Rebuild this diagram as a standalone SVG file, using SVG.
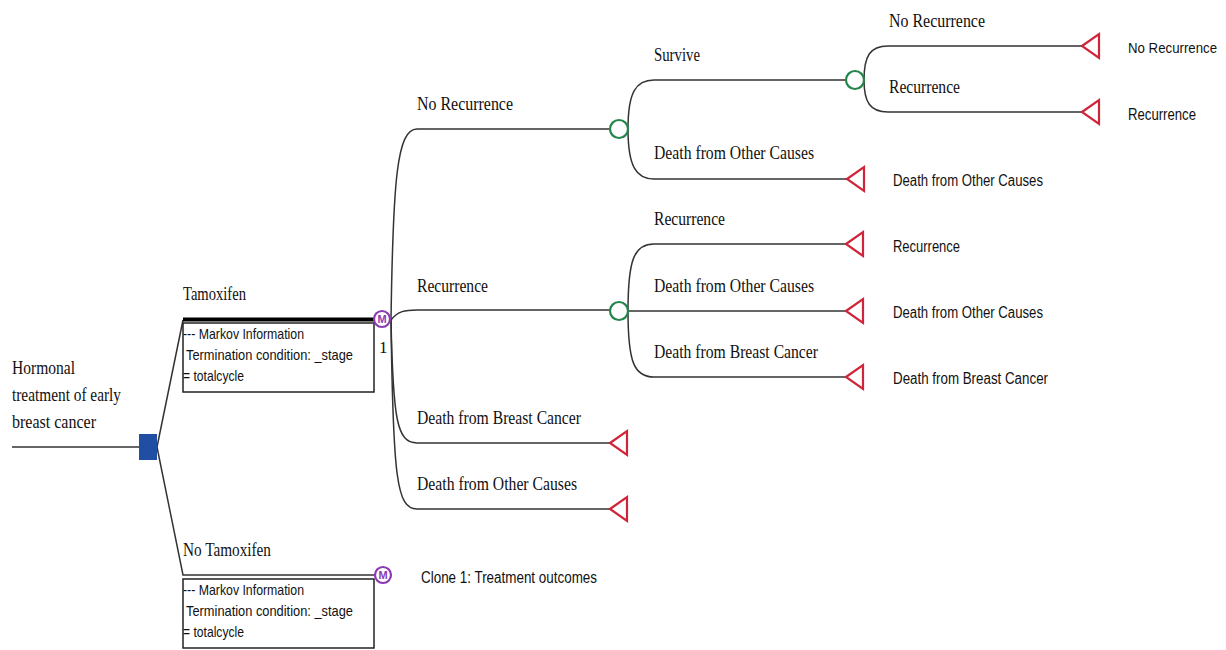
<svg xmlns="http://www.w3.org/2000/svg" width="1226" height="650" viewBox="0 0 1226 650">
  <style>
    .ln { fill: none; stroke: #333; stroke-width: 1.5; }
    .lbl { font-family: "Liberation Serif", "Times New Roman", serif; font-size: 19px; fill: #111; }
    .out { font-family: "Liberation Sans", Arial, sans-serif; font-size: 16px; fill: #111; }
    .info { font-family: "Liberation Sans", Arial, sans-serif; font-size: 15px; fill: #111; }
    .chance { fill: #fff; stroke: #22864a; stroke-width: 2.2; }
    .term { fill: #fff; stroke: #d0243a; stroke-width: 2.2; stroke-linejoin: miter; }
    .markov { fill: #fff; stroke: #8c3ab2; stroke-width: 2.2; }
    .mtxt { font-family: "Liberation Sans", Arial, sans-serif; font-size: 11px; font-weight: bold; fill: #8c3ab2; text-anchor: middle; }
    .box { fill: #fff; stroke: #222; stroke-width: 1.5; }
  </style>
  <defs>
    <polygon id="tri" points="0,0 17,-12 17,12" class="term"/>
  </defs>

  <!-- connectors -->
  <g id="connectors">
    <!-- root -->
    <line class="ln" x1="12" y1="447" x2="139" y2="447"/>
    <!-- decision to strategies -->
    <path class="ln" d="M157,447 L183,320"/>
    <path class="ln" d="M157,447 L183,575 L374,575"/>
    <line x1="183" y1="319.5" x2="374" y2="319.5" stroke="#000" stroke-width="4"/>
    <!-- Tamoxifen markov states -->
    <path class="ln" d="M391,320 C393,180 397,129 417,129 L610,129"/>
    <path class="ln" d="M391,320 C398,311 405,310 417,310 L610,310"/>
    <path class="ln" d="M391,320 C393,420 397,443 417,443 L610,443"/>
    <path class="ln" d="M391,320 C393,480 397,509 417,509 L610,509"/>
    <!-- No Recurrence chance -->
    <path class="ln" d="M628,129 C628,92 636,80 654,80 L846,80"/>
    <path class="ln" d="M628,129 C628,166 636,179 654,179 L847,179"/>
    <!-- Survive chance -->
    <path class="ln" d="M864,80 C864,56 870,46 888,46 L1082,46"/>
    <path class="ln" d="M864,80 C864,102 870,112 888,112 L1082,112"/>
    <!-- Recurrence chance -->
    <path class="ln" d="M628,311 C628,260 634,244 654,244 L846,244"/>
    <path class="ln" d="M628,311 L846,311"/>
    <path class="ln" d="M628,311 C628,362 634,377 654,377 L846,377"/>
  </g>

  <!-- root decision -->
  <g id="root">
    <rect x="139" y="434" width="18" height="26" fill="#1f4ea3"/>
    <text class="lbl" x="12" y="374" textLength="63" lengthAdjust="spacingAndGlyphs">Hormonal</text>
    <text class="lbl" x="12" y="401" textLength="109" lengthAdjust="spacingAndGlyphs">treatment of early</text>
    <text class="lbl" x="12" y="428" textLength="84" lengthAdjust="spacingAndGlyphs">breast cancer</text>
  </g>

  <!-- Tamoxifen strategy -->
  <g id="tamoxifen">
    <text class="lbl" x="183" y="300" textLength="63" lengthAdjust="spacingAndGlyphs">Tamoxifen</text>
    <rect class="box" x="183" y="323" width="191" height="69"/>
    <text class="info" x="183" y="339" textLength="121" lengthAdjust="spacingAndGlyphs">--- Markov Information</text>
    <text class="info" x="186" y="360" textLength="167" lengthAdjust="spacingAndGlyphs">Termination condition: _stage</text>
    <text class="info" x="183" y="381" textLength="61" lengthAdjust="spacingAndGlyphs">= totalcycle</text>
    <circle class="markov" cx="382" cy="319" r="8"/>
    <text class="mtxt" x="382" y="323">M</text>
    <text class="lbl" x="379" y="353" style="font-size:17px">1</text>
  </g>

  <!-- No Tamoxifen strategy -->
  <g id="no-tamoxifen">
    <text class="lbl" x="183" y="556" textLength="88" lengthAdjust="spacingAndGlyphs">No Tamoxifen</text>
    <rect class="box" x="183" y="579" width="191" height="69"/>
    <text class="info" x="183" y="595" textLength="121" lengthAdjust="spacingAndGlyphs">--- Markov Information</text>
    <text class="info" x="186" y="616" textLength="167" lengthAdjust="spacingAndGlyphs">Termination condition: _stage</text>
    <text class="info" x="183" y="637" textLength="61" lengthAdjust="spacingAndGlyphs">= totalcycle</text>
    <circle class="markov" cx="383" cy="575" r="8"/>
    <text class="mtxt" x="383" y="579">M</text>
    <text class="out" x="421" y="583" textLength="176" lengthAdjust="spacingAndGlyphs">Clone 1: Treatment outcomes</text>
  </g>

  <!-- state: No Recurrence -->
  <g id="state-no-recurrence">
    <text class="lbl" x="417" y="110" textLength="96" lengthAdjust="spacingAndGlyphs">No Recurrence</text>
    <circle class="chance" cx="619" cy="129" r="9"/>
  </g>

  <!-- branch: Survive -->
  <g id="survive">
    <text class="lbl" x="654" y="61" textLength="46" lengthAdjust="spacingAndGlyphs">Survive</text>
    <circle class="chance" cx="855" cy="80" r="9"/>
  </g>

  <g id="survive-no-recurrence">
    <text class="lbl" x="889" y="27" textLength="96" lengthAdjust="spacingAndGlyphs">No Recurrence</text>
    <use href="#tri" x="1082" y="46"/>
    <text class="out" x="1128" y="53" style="font-size:14px" textLength="89" lengthAdjust="spacingAndGlyphs">No Recurrence</text>
  </g>

  <g id="survive-recurrence">
    <text class="lbl" x="889" y="93" textLength="71" lengthAdjust="spacingAndGlyphs">Recurrence</text>
    <use href="#tri" x="1082" y="112"/>
    <text class="out" x="1128" y="120" textLength="68" lengthAdjust="spacingAndGlyphs">Recurrence</text>
  </g>

  <g id="norec-death-other">
    <text class="lbl" x="654" y="159" textLength="160" lengthAdjust="spacingAndGlyphs">Death from Other Causes</text>
    <use href="#tri" x="847" y="179"/>
    <text class="out" x="893" y="186" textLength="150" lengthAdjust="spacingAndGlyphs">Death from Other Causes</text>
  </g>

  <!-- state: Recurrence -->
  <g id="state-recurrence">
    <text class="lbl" x="417" y="292" textLength="71" lengthAdjust="spacingAndGlyphs">Recurrence</text>
    <circle class="chance" cx="619" cy="311" r="9"/>
  </g>

  <g id="rec-recurrence">
    <text class="lbl" x="654" y="225" textLength="71" lengthAdjust="spacingAndGlyphs">Recurrence</text>
    <use href="#tri" x="846" y="244"/>
    <text class="out" x="893" y="252" textLength="67" lengthAdjust="spacingAndGlyphs">Recurrence</text>
  </g>

  <g id="rec-death-other">
    <text class="lbl" x="654" y="292" textLength="160" lengthAdjust="spacingAndGlyphs">Death from Other Causes</text>
    <use href="#tri" x="846" y="311"/>
    <text class="out" x="893" y="318" textLength="150" lengthAdjust="spacingAndGlyphs">Death from Other Causes</text>
  </g>

  <g id="rec-death-cancer">
    <text class="lbl" x="654" y="358" textLength="164" lengthAdjust="spacingAndGlyphs">Death from Breast Cancer</text>
    <use href="#tri" x="846" y="377"/>
    <text class="out" x="893" y="384" textLength="155" lengthAdjust="spacingAndGlyphs">Death from Breast Cancer</text>
  </g>

  <!-- state: Death from Breast Cancer -->
  <g id="state-death-cancer">
    <text class="lbl" x="417" y="424" textLength="164" lengthAdjust="spacingAndGlyphs">Death from Breast Cancer</text>
    <use href="#tri" x="610" y="443"/>
  </g>

  <!-- state: Death from Other Causes -->
  <g id="state-death-other">
    <text class="lbl" x="417" y="490" textLength="160" lengthAdjust="spacingAndGlyphs">Death from Other Causes</text>
    <use href="#tri" x="610" y="509"/>
  </g>
</svg>
